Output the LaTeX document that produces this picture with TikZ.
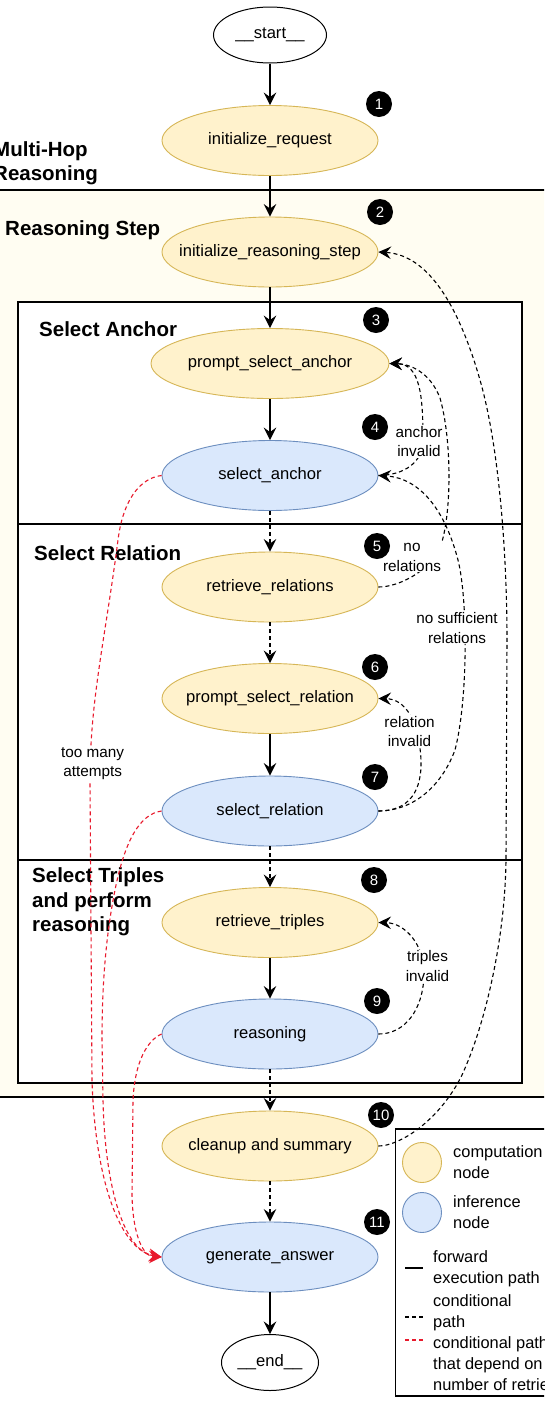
\documentclass[tikz,border=0pt]{standalone}
\usepackage{fontspec}
\setmainfont{Liberation Sans}
\usetikzlibrary{shapes.geometric,arrows.meta}
\definecolor{cream}{HTML}{FFFDF2}
\definecolor{compfill}{HTML}{FFF2CC}
\definecolor{compdraw}{HTML}{D6B656}
\definecolor{inffill}{HTML}{DAE8FC}
\definecolor{infdraw}{HTML}{6C8EBF}
\definecolor{redpath}{HTML}{E8192C}
\newcommand{\rsNodeFont}{\fontsize{16.6}{20}\selectfont}
\newcommand{\rsHdrFont}{\bfseries\fontsize{20.5}{24.5}\selectfont}
\newcommand{\rsLblFont}{\fontsize{15.3}{19.5}\selectfont}
\newcommand{\rsLegFont}{\fontsize{16.4}{21}\selectfont}
\newcommand{\rsBadgeFont}{\fontsize{15}{16}\selectfont}
\tikzset{
  comp/.style={ellipse, draw=compdraw, fill=compfill, line width=0.9pt, minimum width=216pt, minimum height=70pt, inner xsep=-45pt, inner ysep=0pt, font=\rsNodeFont},
  infer/.style={ellipse, draw=infdraw, fill=inffill, line width=0.9pt, minimum width=216pt, minimum height=70pt, inner xsep=-45pt, inner ysep=0pt, font=\rsNodeFont},
  term/.style={ellipse, draw=black, fill=white, line width=1pt, minimum height=56pt, inner xsep=-20pt, inner ysep=0pt, font=\rsNodeFont},
  badge/.style={circle, fill=black, text=white, minimum size=26pt, inner sep=0pt, font=\rsBadgeFont},
  tipstyle/.style={-{Stealth[length=12.5pt,width=12.5pt,inset=4.5pt]}},
  fwd/.style={tipstyle, line width=1.5pt},
  cond/.style={tipstyle, line width=1.1pt, dash pattern=on 4pt off 3pt},
  redcond/.style={tipstyle, line width=1.1pt, dash pattern=on 4pt off 3pt, draw=redpath},
  lbl/.style={fill=white, inner sep=1pt, align=center, font=\rsLblFont},
  hdr/.style={font=\rsHdrFont, align=left, anchor=west, inner sep=0pt},
  legtext/.style={font=\rsLegFont, align=left, anchor=west, inner sep=0pt},
}
\begin{document}
\begin{tikzpicture}[x=1pt,y=-1pt]
\useasboundingbox (0,0) rectangle (544,1414);
\clip (0,0) rectangle (544,1414);
\fill[white] (0,0) rectangle (544,1414);
% outer reasoning step band
\fill[cream] (-10,190) rectangle (560,1097);
\draw[line width=1.2pt] (-10,190) -- (560,190);
\draw[line width=1.2pt] (-10,1097) -- (560,1097);
% inner box
\draw[fill=white, line width=1.2pt] (18,302) rectangle (522,1083);
\draw[line width=1.2pt] (18,524) -- (522,524);
\draw[line width=1.2pt] (18,860) -- (522,860);

% headers
\node[hdr] (hmh) at (-7,163) {Multi-Hop\\Reasoning};
\node[hdr] (hrs) at (5,230) {Reasoning Step};
\node[hdr] (hsa) at (39,329) {Select Anchor};
\node[hdr] (hsr) at (34,553) {Select Relation};
\node[hdr] (hst) at (32,902) {Select Triples\\and perform\\reasoning};

% nodes
\node[term, minimum width=113pt] (start) at (270,35) {\_\_start\_\_};
\node[comp] (ir) at (270,140.5) {initialize\_request};
\node[comp] (irs) at (270,252) {initialize\_reasoning\_step};
\node[comp, minimum width=238pt] (psa) at (270,363.5) {prompt\_select\_anchor};
\node[infer] (sa) at (270,475.5) {select\_anchor};
\node[comp] (rr) at (270,587) {retrieve\_relations};
\node[comp] (psr) at (270,698.5) {prompt\_select\_relation};
\node[infer] (sr) at (270,811) {select\_relation};
\node[comp] (rt) at (270,922.5) {retrieve\_triples};
\node[infer] (rs) at (270,1034) {reasoning};
\node[comp] (cs) at (270,1146) {cleanup and summary};
\node[infer] (ga) at (270,1257) {generate\_answer};
\node[term, minimum width=97pt] (end) at (270,1362.5) {\_\_end\_\_};

% forward path
\draw[fwd] (start) -- (ir);
\draw[fwd] (ir) -- (irs);
\draw[fwd] (irs) -- (psa);
\draw[fwd] (psa) -- (sa);
\draw[cond, line width=1.4pt] (sa) -- (rr);
\draw[cond, line width=1.4pt] (rr) -- (psr);
\draw[fwd] (psr) -- (sr);
\draw[cond, line width=1.4pt] (sr) -- (rt);
\draw[fwd] (rt) -- (rs);
\draw[cond, line width=1.4pt] (rs) -- (cs);
\draw[cond, line width=1.4pt] (cs) -- (ga);
\draw[fwd] (ga) -- (end);

% conditional loops
\draw[cond] (sa.east) .. controls (405,475) and (423,462) .. (423,440) .. controls (423,395) and (420,364) .. (psa.east);
\draw[cond] (rr.east) .. controls (400,587) and (430,570) .. (440,548) .. controls (452,515) and (452,440) .. (440,398) .. controls (430,372) and (410,364) .. (psa.east);
\draw[cond] (sr.east) .. controls (410,811) and (440,790) .. (455,750) .. controls (468,700) and (468,600) .. (458,560) .. controls (445,510) and (420,478) .. (sa.east);
\draw[cond] (sr.east) .. controls (410,811) and (422,790) .. (421,760) .. controls (419,720) and (405,699) .. (psr.east);
\draw[cond] (rs.east) .. controls (405,1034) and (423,1010) .. (424,975) .. controls (425,945) and (405,923) .. (rt.east);

% too many attempts (red)
\draw[redcond] (sa.west) .. controls (140,478) and (123,500) .. (118,540) .. controls (105,640) and (90,700) .. (90,780) -- (92,1080) .. controls (95,1180) and (120,1250) .. (ga.west);
\draw[redcond] (sr.west) .. controls (140,814) and (125,840) .. (115,890) .. controls (105,940) and (102,990) .. (102,1040) -- (103,1100) .. controls (105,1190) and (125,1252) .. (ga.west);
\draw[redcond] (rs.west) .. controls (148,1040) and (135,1060) .. (133,1100) -- (132,1195) .. controls (133,1240) and (145,1257) .. (ga.west);

% edge labels
\node[lbl] (lai) at (419,441.5) {anchor\\invalid};
\node[lbl] (lnr) at (412,557.5) {no\\relations};
\node[lbl] (lns) at (457,628) {no sufficient\\relations};
\node[lbl] (lri) at (409.5,731.5) {relation\\invalid};
\node[lbl] (lti) at (427.5,966) {triples\\invalid};
\node[lbl] (ltm) at (92.6,763.5) {too many\\attempts};

% legend
\draw[fill=white, line width=1.2pt] (395.5,1129) rectangle (560,1396);
\node[ellipse, draw=compdraw, fill=compfill, line width=0.9pt, minimum width=39pt, minimum height=40pt, inner sep=0pt] (lgc) at (422,1162.5) {};
\node[legtext] (lgct) at (453,1162.5) {computation\\node};
\node[ellipse, draw=infdraw, fill=inffill, line width=0.9pt, minimum width=39pt, minimum height=40pt, inner sep=0pt] (lgi) at (422,1212.5) {};
\node[legtext] (lgit) at (453,1212.5) {inference\\node};
\draw[line width=1.2pt] (405,1268) -- (423,1268);
\node[legtext] (lgft) at (433,1268.5) {forward\\execution path};
\draw[line width=1.1pt, dash pattern=on 4pt off 3pt] (405,1317) -- (423,1317);
\node[legtext] (lgcp) at (433,1313) {conditional\\path};
\draw[line width=1.1pt, dash pattern=on 4pt off 3pt, redpath] (405,1340) -- (423,1340);
\node[legtext] (lgrp) at (433,1364) {conditional path\\that depend on\\number of retries};

% long loop back to reasoning step
\draw[cond] (cs.east) .. controls (400,1146) and (440,1120) .. (462,1075) .. controls (485,1025) and (505,940) .. (506,860) -- (507,640) .. controls (507,560) and (500,450) .. (480,380) .. controls (460,310) and (430,255) .. (irs.east);

% badges
\node[badge] (b1) at (379,104) {1};
\node[badge] (b2) at (380,212) {2};
\node[badge] (b3) at (376,320) {3};
\node[badge] (b4) at (375,427) {4};
\node[badge] (b5) at (377,546) {5};
\node[badge] (b6) at (375,667) {6};
\node[badge] (b7) at (375,777) {7};
\node[badge] (b8) at (374,880) {8};
\node[badge] (b9) at (377,1001) {9};
\node[badge] (b10) at (381,1115) {10};
\node[badge] (b11) at (377,1222) {11};
\end{tikzpicture}
\end{document}
